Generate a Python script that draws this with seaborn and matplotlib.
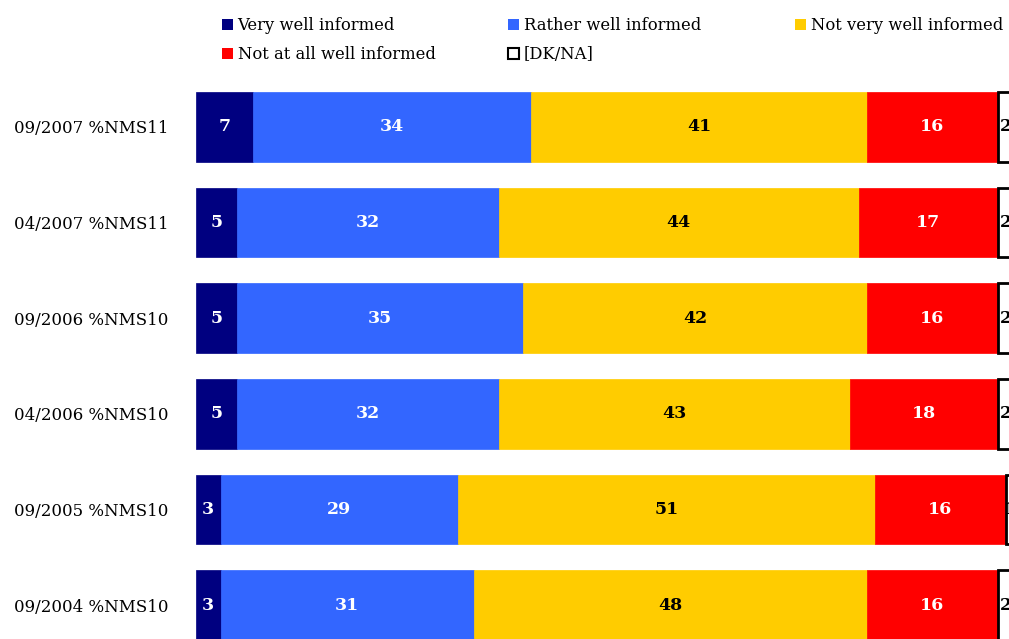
import numpy as np
import pandas as pd
import matplotlib
matplotlib.use("Agg")
import matplotlib.pyplot as plt
from matplotlib.patches import Patch
import seaborn as sns

# Survey waves (top to bottom)
waves = ["09/2007 %NMS11", "04/2007 %NMS11", "09/2006 %NMS10",
         "04/2006 %NMS10", "09/2005 %NMS10", "09/2004 %NMS10"]

# Share of answers per wave (%)
very_well = [7, 5, 5, 5, 3, 3]
rather_well = [34, 32, 35, 32, 29, 31]
not_very_well = [41, 44, 42, 43, 51, 48]
not_at_all = [16, 17, 16, 18, 16, 16]
dk_na = [2, 2, 2, 2, 1, 2]

series_names = ["Very well informed", "Rather well informed", "Not very well informed",
                "Not at all well informed", "[DK/NA]"]
series_values = [very_well, rather_well, not_very_well, not_at_all, dk_na]
fill_colors = ["#000080", "#3366FF", "#FFCC00", "#FF0000", "#FFFFFF"]
text_colors = ["white", "white", "black", "white", "black"]

sns.set_theme(style="white")
plt.rcParams["font.family"] = ["DejaVu Serif"]
plt.rcParams["text.color"] = "black"
plt.rcParams["ytick.color"] = "black"

fig = plt.figure(figsize=(10.09, 6.39), dpi=100)
W, H = 1009, 639
ax = fig.add_axes([196 / W, 1 - 653 / H, 818 / W, (653 - 79) / H])

left = np.zeros(len(waves))
for name, vals, fc, tc in zip(series_names, series_values, fill_colors, text_colors):
    df = pd.DataFrame({"wave": waves, "value": vals})
    is_dk = name == "[DK/NA]"
    sns.barplot(data=df, x="value", y="wave", orient="h", color=fc, saturation=1,
                width=0.73, ax=ax, errorbar=None,
                edgecolor="black" if is_dk else fc, linewidth=2.0 if is_dk else 0.5)
    cont = ax.containers[-1]
    for patch, l in zip(cont.patches, left):
        patch.set_x(l)
        patch.set_facecolor(fc)
    ax.bar_label(cont, labels=[str(v) for v in vals], label_type="center",
                 color=tc, fontsize=12.5, fontweight="bold")
    left += np.array(vals)

ax.set_xlim(0, 100)
ax.set_ylim(len(waves) - 0.5, -0.5)
ax.set_xlabel("")
ax.set_ylabel("")
ax.set_xticks([])
ax.tick_params(axis="y", length=0, pad=20, labelsize=12, labelcolor="black")
for s in ax.spines.values():
    s.set_visible(False)

# Legend laid out in three columns above the bars
handles = [Patch(facecolor=fc, edgecolor="black" if n == "[DK/NA]" else fc,
                 linewidth=1.5 if n == "[DK/NA]" else 0)
           for n, fc in zip(series_names, fill_colors)]
columns = [([0, 3], 222), ([1, 4], 508), ([2], 795)]
for idx, xpx in columns:
    fig.legend([handles[i] for i in idx], [series_names[i] for i in idx],
               loc="upper left", bbox_to_anchor=(xpx / W, 1 - 17 / H),
               frameon=False, fontsize=11.8, handlelength=0.65, handleheight=0.65,
               handletextpad=0.3, labelspacing=0.74, borderaxespad=0, borderpad=0,
               labelcolor="black")

fig.savefig("out.png", dpi=100)
